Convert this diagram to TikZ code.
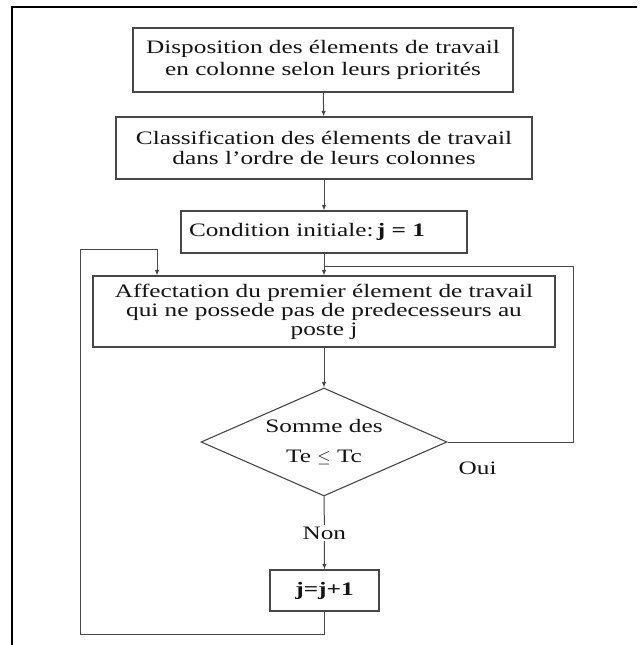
\documentclass[tikz,border=0pt]{standalone}
\usepackage{fontspec}
\setmainfont{Liberation Serif}[FakeStretch=1.33]
\usepackage{tikz}
\usetikzlibrary{
  arrows.meta,
  calc,
  shapes.geometric
}
\definecolor{FlowInk}{HTML}{141414}
\definecolor{FlowEdge}{HTML}{474747}
\tikzset{
  every node/.style = {font=\fontsize{19}{21.5}\selectfont, text=FlowInk},
  flow box/.style = {
    draw=FlowEdge,
    fill=white,
    line width=1.1pt,
    align=center,
    inner sep=0pt
  },
  flow test/.style = {
    diamond,
    aspect=2.28,
    draw=FlowEdge,
    fill=white,
    line width=1.1pt,
    align=center,
    inner sep=0pt,
    font=\fontsize{19}{30}\selectfont
  },
  flow line/.style = {draw=FlowEdge, line width=1.0pt},
  flow arrow/.style = {flow line, -{Latex[length=5.5pt,width=4.5pt]}},
  flow label/.style = {fill=white, inner sep=1.5pt},
  frame line/.style = {draw=black, line width=2.6pt},
}

\begin{document}
\begin{tikzpicture}[x=1pt,y=-1pt]
  \useasboundingbox (0,0) rectangle (642,645);
  \draw[frame line] (12,645) -- (12,7) -- (637,7);

  \node[flow box, minimum width=380pt, minimum height=64pt] (order) at (323,60)
    {Disposition des élements de travail\\en colonne selon leurs priorités};
  \node[flow box, minimum width=416pt, minimum height=62pt, font=\fontsize{19}{20}\selectfont] (sort) at (324,148)
    {Classification des élements de travail\\dans l’ordre de leurs colonnes};
  \node[flow box, minimum height=42pt, text width=270pt, inner xsep=8pt, align=left] (init) at (324,232)
    {Condition initiale:\,\textbf{j = 1}};
  \node[flow box, minimum width=462pt, minimum height=71pt, font=\fontsize{19}{19}\selectfont] (assign) at (324,311.5)
    {Affectation du premier élement de travail\\qui ne possede pas de predecesseurs au\\poste j};
  \node[flow test, minimum width=246pt, minimum height=108pt] (test) at (324,442)
    {Somme des\\Te $\leq$ Tc};
  \node[flow box, minimum width=109pt, minimum height=41pt] (incr) at (324.5,590.5)
    {\textbf{j=j+1}};

  \coordinate (back low) at (80,634);
  \coordinate (back high) at (80,249);
  \coordinate (back in) at (157,249);
  \coordinate (yes turn) at (573,266);

  \draw[flow arrow] (order) -- (sort);
  \draw[flow arrow] (sort) -- (init);
  \draw[flow arrow] (init) -- (assign);
  \draw[flow arrow] (assign) -- (test);
  \draw[flow arrow] (test) -- node[flow label] {Non} (incr);

  % retour au poste suivant
  \draw[flow arrow] (incr.south) |- (back low) -- (back high) -| (back in |- assign.north);
  % Oui : element suivant au meme poste
  \draw[flow line] (test.east) -| node[pos=0.12, yshift=-26pt] {Oui} (yes turn) -- (init.south |- yes turn);
\end{tikzpicture}
\end{document}
